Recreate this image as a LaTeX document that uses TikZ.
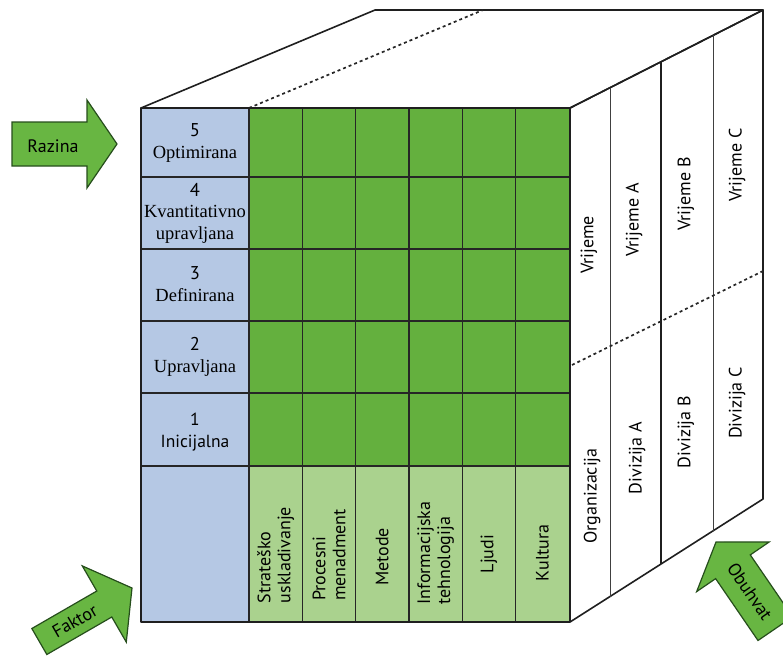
\documentclass[tikz,border=0pt]{standalone}
\usepackage{fontspec}
\setmainfont{Liberation Serif}
\newfontfamily\lvlserif{Liberation Serif}
\newfontfamily\labelsans{PT Sans}
\definecolor{cellblue}{RGB}{181,200,228}
\definecolor{cellgreen}{RGB}{100,176,62}
\definecolor{celllight}{RGB}{170,210,142}
\definecolor{arrowgreen}{RGB}{104,182,66}
\definecolor{arrowdark}{RGB}{38,78,28}
\begin{document}
\begin{tikzpicture}[x=1pt,y=-1pt,
  edge/.style={line width=1.6pt, draw=black!88, line join=round},
  gridline/.style={line width=1.3pt, draw=black!85},
  faceline/.style={line width=1pt, draw=black!75},
  dotline/.style={line width=1.7pt, dash pattern=on 3pt off 3pt, draw=black!85},
  lvl/.style={align=center, font=\lvlserif\fontsize{18.5}{21.5}\selectfont, inner sep=0pt},
  sanslbl/.style={font=\labelsans\fontsize{18}{20}\selectfont, inner sep=0pt},
  vlbl/.style={sanslbl, rotate=90, align=left},
  bigarrow/.style={fill=arrowgreen, draw=arrowdark, line width=1.2pt, line join=miter},
]
\useasboundingbox (0,0) rectangle (783,657);
\clip (0,0) rectangle (783,657);

% ---------- top face ----------
\draw[edge] (141,108) -- (375,10) -- (763,10) -- (570,108);
\draw[dotline] (249,108) -- (483,10);

% ---------- right face ----------
\draw[edge] (570,108) -- (763,10) -- (763,499) -- (570,622);
\draw[faceline] (610,87.7) -- (610,596.5);
\draw[edge] (661,61.8) -- (661,564);
\draw[faceline] (713,35.4) -- (713,530.9);
\draw[dotline] (572,365) -- (763,271);

% ---------- front face ----------
\fill[cellblue] (141,108) rectangle (249,622);
\fill[cellgreen] (249,108) rectangle (570,466);
\fill[celllight] (249,466) rectangle (570,622);
\foreach \x in {249,302.3,355.7,409,462.3,515.7}
  \draw[gridline] (\x,108) -- (\x,622);
\foreach \y in {177,249,321,393,466}
  \draw[gridline] (141,\y) -- (570,\y);
\draw[edge] (141,108) rectangle (570,622);

% ---------- level labels ----------
\node[lvl] (l5) at (195,143) {{\labelsans 5}\\Optimirana};
\node[lvl] (l4) at (195,213) {{\labelsans 4}\\Kvantitativno\\upravljana};
\node[lvl] (l3) at (195,284) {{\labelsans 3}\\Definirana};
\node[lvl] (l2) at (195,357) {{\labelsans 2}\\Upravljana};
\node[lvl, font=\labelsans\fontsize{17.5}{21.5}\selectfont] (l1) at (195,432) {1\\Inicijalna};

% ---------- factor labels ----------
\node[vlbl] (f1) at (275.7,555) {Strateško\\uskladivanje};
\node[vlbl] (f2) at (329,555) {Procesni\\menadment};
\node[vlbl] (f3) at (382.3,557) {Metode};
\node[vlbl] (f4) at (435.7,553) {Informacijska\\tehnologija};
\node[vlbl] (f5) at (489,554) {Ljudi};
\node[vlbl] (f6) at (542.3,553) {Kultura};

% ---------- scope labels ----------
\node[vlbl] (v0) at (589,245) {Vrijeme};
\node[vlbl] (va) at (634,220) {Vrijeme A};
\node[vlbl] (vb) at (686,194) {Vrijeme B};
\node[vlbl] (vc) at (737,165) {Vrijeme C};
\node[vlbl] (o0) at (592,496) {Organizacija};
\node[vlbl] (da) at (637,458) {Divizija A};
\node[vlbl] (db) at (686,432) {Divizija B};
\node[vlbl] (dc) at (737,403) {Divizija C};

% ---------- arrows ----------
\begin{scope}[shift={(117,144)}]
  \draw[bigarrow] (0,0) -- (-30,-44) -- (-30,-22) -- (-105,-22) -- (-105,22) -- (-30,22) -- (-30,44) -- cycle;
  \node[sanslbl] (razina) at (-64,2) {Razina};
\end{scope}
\begin{scope}[shift={(132,588)}, rotate=30]
  \draw[bigarrow] (0,0) -- (-32,-44) -- (-32,-15) -- (-107,-15) -- (-107,15) -- (-32,15) -- (-32,44) -- cycle;
  \node[sanslbl, rotate=30] (faktor) at (-66,0) {Faktor};
\end{scope}
\begin{scope}[shift={(716,542)}, rotate=124.4]
  \draw[bigarrow] (0,0) -- (-30,-44) -- (-30,-21) -- (-105,-21) -- (-105,21) -- (-30,21) -- (-30,44) -- cycle;
  \node[sanslbl, rotate=-55.6] (obuhvat) at (-60,0) {Obuhvat};
\end{scope}
\end{tikzpicture}
\end{document}
